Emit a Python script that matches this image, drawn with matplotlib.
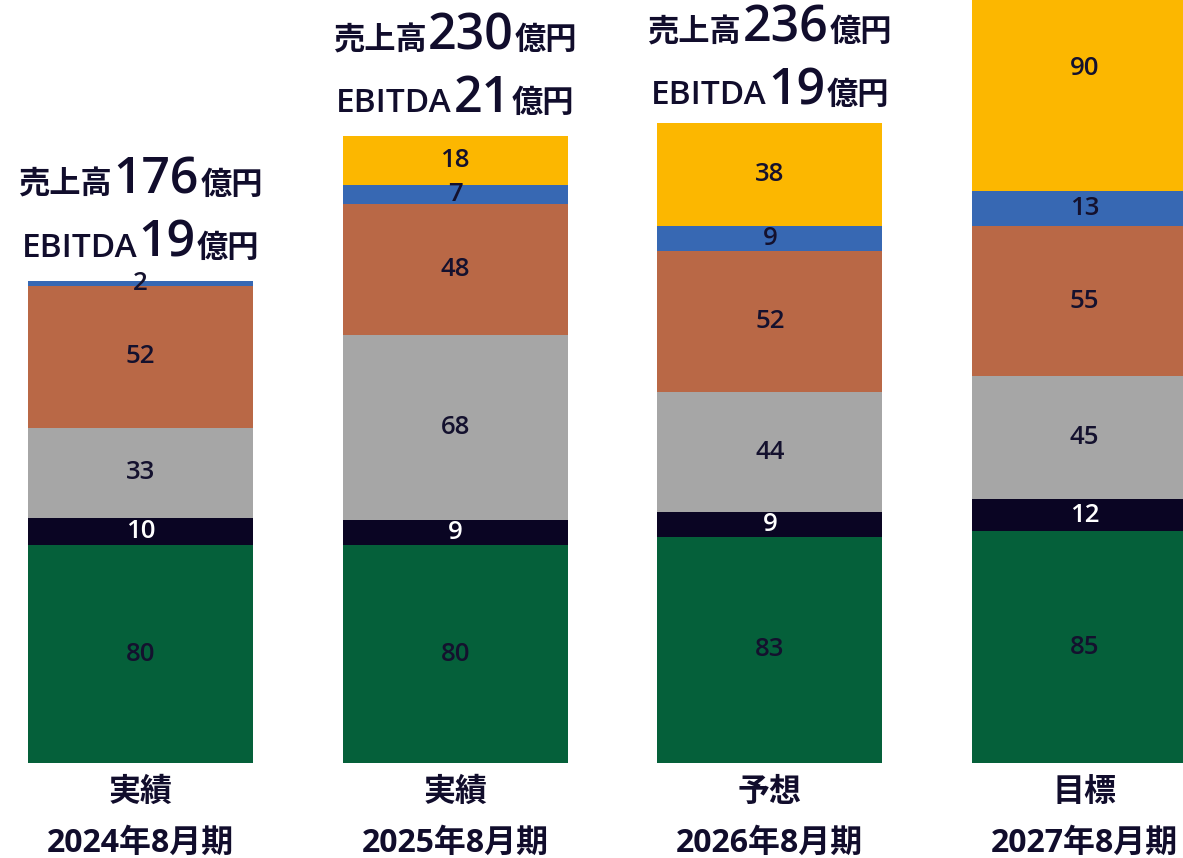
import matplotlib
matplotlib.use("Agg")
import matplotlib.pyplot as plt
import numpy as np
from matplotlib.offsetbox import TextArea, HPacker, AnnotationBbox

plt.rcParams['font.family'] = ['Open Sans', 'Noto Sans CJK JP', 'DejaVu Sans']

# Data
periods = ["2024年8月期", "2025年8月期", "2026年8月期", "2027年8月期"]
kinds = ["実績", "実績", "予想", "目標"]
seg_green = [80, 80, 83, 85]
seg_navy = [10, 9, 9, 12]
seg_gray = [33, 68, 44, 45]
seg_brown = [52, 48, 52, 55]
seg_blue = [2, 7, 9, 13]
seg_yellow = [0, 18, 38, 90]
sales = [176, 230, 236]
ebitda = [19, 21, 19]

segments = [seg_green, seg_navy, seg_gray, seg_brown, seg_blue, seg_yellow]
colors = ["#05603a", "#0a0523", "#a6a6a6", "#b96846", "#3768b3", "#fcb700"]
label_colors = ["#14112e", "white", "#14112e", "#14112e", "#14112e", "#14112e"]
txt = "#110d2c"

fig = plt.figure(figsize=(11.83, 8.58), dpi=100)
ax = fig.add_axes([0, 0.1107, 1, 0.8893])

x = np.arange(len(periods))
bottom = np.zeros(len(periods))
for vals, col, lc in zip(segments, colors, label_colors):
    vals = np.array(vals, dtype=float)
    ax.bar(x, vals, bottom=bottom, width=0.715, color=col, edgecolor="none")
    for xi, v, b in zip(x, vals, bottom):
        if v > 0:
            ax.text(xi, b + v / 2, f"{int(v)}", ha="center", va="center",
                    fontsize=18.5, fontweight="semibold", color=lc)
    bottom += vals

ax.set_xlim(-0.4465, 3.3127)
ax.set_ylim(0, 280)

# header labels above bars
def header(xi, top, parts, offset_px):
    boxes = [TextArea(s, textprops=dict(fontsize=fs, fontweight=fw, color=txt))
             for s, fs, fw in parts]
    pack = HPacker(children=boxes, align="baseline", pad=0, sep=1)
    ab = AnnotationBbox(pack, (xi, top), xybox=(0, offset_px * 0.72),
                        boxcoords="offset points", frameon=False,
                        box_alignment=(0.5, 0.5), annotation_clip=False)
    ax.add_artist(ab)

for i in range(len(sales)):
    # keep the header inside the figure for the tall bars
    top = min(bottom[i], 233)
    header(i, top, [("売上高", 22.5, "bold"), (str(sales[i]), 36, "semibold"),
                    ("億円", 22.5, "bold")], 100)
    header(i, top, [("EBITDA", 24, "semibold"), (str(ebitda[i]), 36, "semibold"),
                    ("億円", 22.5, "bold")], 37)

ax.set_xticks(x)
ax.set_xticklabels([f"{k}\n{p}" for k, p in zip(kinds, periods)],
                   fontsize=23, fontweight="bold", color=txt, linespacing=1.72)
ax.tick_params(axis="x", length=0, pad=9)
ax.set_yticks([])
for s in ax.spines.values():
    s.set_visible(False)

fig.savefig("out.png", dpi=100)
